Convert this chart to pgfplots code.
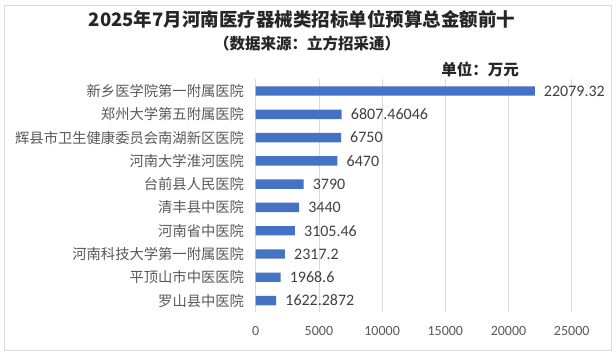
\documentclass[border=0pt]{standalone}
\usepackage{pgfplots}
\usepackage{pgfplotstable}
\pgfplotsset{compat=1.18}
\usepackage{fontspec}
\setmainfont{Carlito}
\newfontfamily\cjk{Noto Sans CJK SC}
\definecolor{barc}{HTML}{4472C4}
\definecolor{gridc}{HTML}{D9D9D9}
\definecolor{txtc}{HTML}{595959}
\definecolor{valc}{HTML}{404040}
\definecolor{titc}{HTML}{262626}
\pgfplotstableread{
y x label
0 22079.32 22079.32
1 6807.46046 6807.46046
2 6750 6750
3 6470 6470
4 3790 3790
5 3440 3440
6 3105.46 3105.46
7 2317.2 2317.2
8 1968.6 1968.6
9 1622.2872 1622.2872
}\data
\begin{document}
\begin{tikzpicture}
\useasboundingbox (0,0) rectangle (616bp,354bp);
\draw[gridc, line width=0.8bp] (4.5bp,3.5bp) rectangle (611.5bp,349bp);
\begin{axis}[
  at={(255.7bp,41.8bp)}, anchor=south west,
  scale only axis, width=316bp, height=232.8bp,
  xbar, bar width=9.4bp,
  xmin=0, xmax=25000, ymin=-0.5, ymax=9.5, y dir=reverse,
  ytick={0,...,9},
  yticklabels={新乡医学院第一附属医院,郑州大学第五附属医院,辉县市卫生健康委员会南湖新区医院,河南大学淮河医院,台前县人民医院,清丰县中医院,河南省中医院,河南科技大学第一附属医院,平顶山市中医医院,罗山县中医院},
  xtick={0,5000,10000,15000,20000,25000},
  xticklabels={0,5000,10000,15000,20000,25000},
  xmajorgrids, grid style={draw=gridc, line width=0.8bp},
  axis line style={draw=none},
  major tick length=0, tick style={draw=none},
  yticklabel style={font=\cjk\fontsize{14.3bp}{16bp}\selectfont, text=txtc, inner sep=0pt, xshift=-11.5bp},
  xticklabel style={font=\fontsize{14bp}{16bp}\selectfont, text=txtc, inner sep=0pt, yshift=-14bp},
  point meta=explicit symbolic,
  nodes near coords,
  nodes near coords style={font=\fontsize{16bp}{18bp}\selectfont, text=valc, anchor=west, inner sep=0pt, xshift=9bp},
  clip=false,
]
\addplot[fill=barc, draw=none] table[x=x, y=y, meta=label] {\data};
\end{axis}
\node[font=\cjk\bfseries\fontsize{18.5bp}{20bp}\selectfont, text=titc] at (302bp,335bp) {2025年7月河南医疗器械类招标单位预算总金额前十};
\node[font=\cjk\bfseries\fontsize{15.5bp}{18bp}\selectfont, text=titc] at (307bp,310bp) {（数据来源：立方招采通）};
\node[font=\cjk\bfseries\fontsize{15.5bp}{18bp}\selectfont, text=titc] at (480bp,285bp) {单位：万元};
\end{tikzpicture}
\end{document}
